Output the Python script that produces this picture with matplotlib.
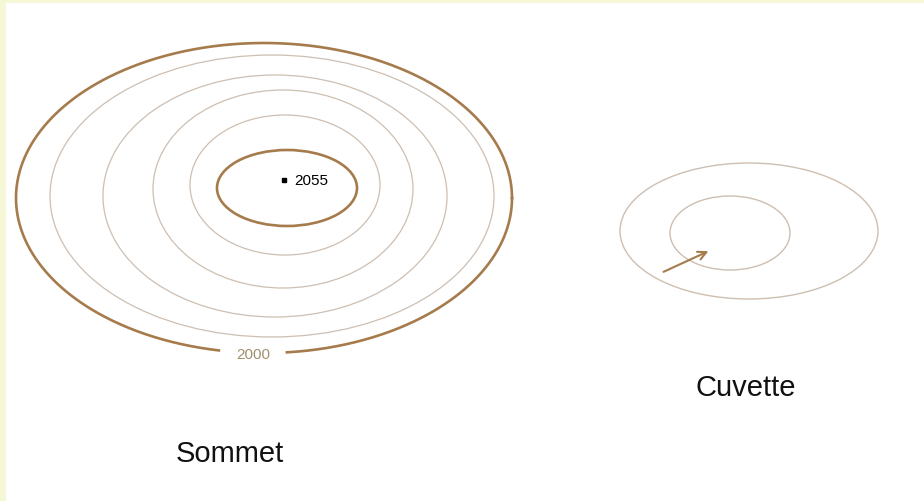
import numpy as np
import matplotlib
matplotlib.use("Agg")
import matplotlib.pyplot as plt
from matplotlib.patches import Ellipse, Rectangle

plt.rcParams['font.family'] = ['Liberation Sans', 'DejaVu Sans']

# contour rings, in pixel units: centre x, centre y, half width, half height
summit_cx = [287, 285, 283, 275, 272]
summit_cy = [188, 185, 189, 196, 196]
summit_a = [70, 95, 130, 172, 222]
summit_b = [38, 70, 99, 121, 141]
summit_thick = [True, False, False, False, False]

# outer ring (level 2000) with a gap for its label
outer_ring = (264, 198, 248, 155)
outer_label = "2000"
outer_label_xy = (253, 355)
outer_gap = 66

top_label = "2055"
top_xy = (284, 180)

basin_cx = [749, 730]
basin_cy = [231, 233]
basin_a = [129, 60]
basin_b = [68, 37]
basin_arrow = [(661, 273), (711, 250)]

names = ["Sommet", "Cuvette"]
name_xy = [(230, 454), (746, 388)]

thick_col = "#a67b4c"
thin_col = "#cdbfb2"

fig = plt.figure(figsize=(9.24, 5.01), dpi=100, facecolor="#f5f7d6")
ax = fig.add_axes([0, 0, 1, 1])
ax.set_xlim(0, 924)
ax.set_ylim(501, 0)
ax.axis("off")
ax.add_patch(Rectangle((6, 3), 920, 500, facecolor="white", edgecolor="none", zorder=0))

for cx, cy, a, b, thick in zip(summit_cx, summit_cy, summit_a, summit_b, summit_thick):
    ax.add_patch(Ellipse((cx, cy), 2 * a, 2 * b, fill=False,
                         edgecolor=thick_col if thick else thin_col,
                         lw=1.9 if thick else 0.9))

# outer ring drawn by hand so the label can sit in a gap
cx, cy, a, b = outer_ring
t = np.linspace(0, 2 * np.pi, 800)
xs = cx + a * np.cos(t)
ys = cy + b * np.sin(t)
gap = (np.abs(xs - outer_label_xy[0]) < outer_gap / 2) & (ys > cy)
xs[gap] = np.nan
ax.plot(xs, ys, color=thick_col, lw=1.9)
ax.text(*outer_label_xy, outer_label, color="#a0906e", fontsize=11,
        ha="center", va="center")

ax.plot(*top_xy, marker="s", ms=3.5, color="black")
ax.text(top_xy[0] + 10, top_xy[1] + 1, top_label, fontsize=11,
        ha="left", va="center", color="black")

for cx, cy, a, b in zip(basin_cx, basin_cy, basin_a, basin_b):
    ax.add_patch(Ellipse((cx, cy), 2 * a, 2 * b, fill=False,
                         edgecolor=thin_col, lw=1.0))

ax.annotate("", xy=basin_arrow[1], xytext=basin_arrow[0],
            arrowprops=dict(arrowstyle="->", color=thick_col, lw=1.5,
                            mutation_scale=15))

for name, (x, y) in zip(names, name_xy):
    ax.text(x, y, name, fontsize=21, ha="center", va="center", color="#111111")

fig.savefig("out.png", dpi=100, facecolor=fig.get_facecolor())
